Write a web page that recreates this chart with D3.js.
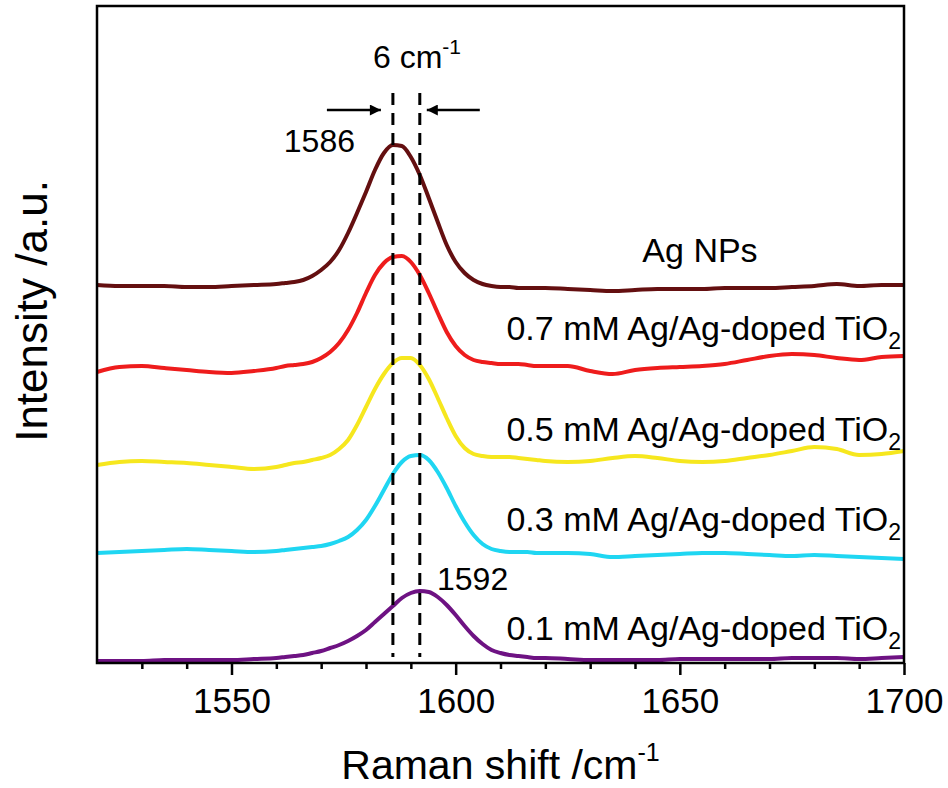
<!DOCTYPE html>
<html>
<head>
<meta charset="utf-8">
<script src="https://cdn.jsdelivr.net/npm/d3@7"></script>
<style>
  body { margin: 0; background: #fff; }
  text { font-family: "Liberation Sans", Arial, sans-serif; fill: #000; }
</style>
</head>
<body>
<div id="chart"></div>
<script>

// raman shift sampling (cm-1)
var ramanShift = [1520, 1525, 1530, 1535, 1540, 1545, 1550, 1555,
    1560, 1562, 1564, 1566, 1568, 1570, 1572, 1574, 1576, 1578, 1580,
    1582, 1584, 1586, 1588, 1590, 1592, 1594, 1596, 1598, 1600,
    1602, 1604, 1606, 1608, 1610, 1612, 1614, 1616, 1618, 1620,
    1625, 1630, 1635, 1640, 1645, 1650, 1655, 1660, 1665, 1670, 1675,
    1680, 1685, 1690, 1695, 1700];

// intensities (a.u., stacked with offsets as in the figure)
var agNPs = [378, 377, 377, 377, 376, 376, 377, 378,
    379, 380, 381, 383, 387, 393, 401, 413, 430, 450, 471,
    493, 510, 518, 517, 506, 488, 465, 441, 418, 401,
    390, 383, 379, 377, 376, 376, 375, 375, 375, 375,
    374, 373, 372, 373, 374, 374, 374, 375, 375, 375, 376,
    377, 379, 377, 378, 378];

var ag07 = [291, 296, 297, 295, 293, 291, 290, 292,
    295, 297, 298, 299, 301, 305, 311, 320, 333, 350, 370,
    388, 400, 406, 407, 401, 388, 370, 350, 331, 317,
    308, 303, 301, 300, 299, 299, 299, 298, 297, 297,
    297, 292, 289, 293, 295, 296, 297, 299, 303, 307, 309,
    308, 305, 303, 306, 307];

var ag05 = [198, 201, 202, 201, 200, 198, 196, 194,
    196, 198, 200, 201, 203, 205, 208, 214, 223, 238, 256,
    274, 289, 300, 305, 305, 298, 284, 265, 245, 227,
    215, 209, 207, 206, 206, 206, 205, 204, 203, 202,
    201, 202, 205, 207, 205, 202, 201, 202, 205, 208, 212,
    216, 214, 208, 209, 212];

var ag03 = [110, 111, 112, 113, 114, 113, 112, 111,
    112, 113, 114, 115, 116, 117, 119, 122, 126, 133, 143,
    157, 173, 189, 201, 207, 208, 203, 191, 175, 157,
    141, 128, 119, 114, 112, 111, 111, 111, 110, 110,
    110, 109, 106, 107, 108, 109, 110, 110, 109, 108, 107,
    108, 107, 106, 105, 104];

var ag01 = [2, 2, 2, 3, 3, 3, 3, 4,
    5, 6, 7, 8, 10, 12, 15, 18, 22, 27, 33,
    41, 49, 57, 65, 70, 72, 71, 66, 58, 48,
    37, 27, 19, 13, 10, 8, 7, 6, 5, 5,
    4, 3, 3, 3, 3, 4, 4, 4, 4, 4, 5,
    5, 5, 4, 5, 6];

var seriesNames = ["Ag NPs", "0.7 mM Ag/Ag-doped TiO", "0.5 mM Ag/Ag-doped TiO",
    "0.3 mM Ag/Ag-doped TiO", "0.1 mM Ag/Ag-doped TiO"];
var seriesColors = ["#640f10", "#ee1c1c", "#f6e71e", "#1fd6f2", "#6e1283"];
var seriesValues = [agNPs, ag07, ag05, ag03, ag01];

var majorTicks = [1550, 1600, 1650, 1700];
var minorTicks = [1530, 1540, 1560, 1570, 1580, 1590, 1610, 1620, 1630, 1640,
    1660, 1670, 1680, 1690];

// peak positions marked with dashed lines
var peakMarks = [1586, 1592];

// svg container
var svgWidth = 948;
var svgHeight = 788;

var margin = { top: 6, right: 44, bottom: 125, left: 97 };
var chartWidth = svgWidth - margin.left - margin.right;
var chartHeight = svgHeight - margin.top - margin.bottom;

var svg = d3.select("#chart").append("svg")
    .attr("width", svgWidth)
    .attr("height", svgHeight);

var chartGroup = svg.append("g")
    .attr("transform", `translate(${margin.left}, ${margin.top})`);

// scales
var xScale = d3.scaleLinear()
    .domain([1520, 1700])
    .range([0, chartWidth]);

var yScale = d3.scaleLinear()
    .domain([0, 657])
    .range([chartHeight, 0]);

// minor ticks
chartGroup.append("g")
    .attr("transform", `translate(0, ${chartHeight})`)
    .call(d3.axisBottom(xScale).tickValues(minorTicks).tickSize(6).tickFormat(""))
    .call(g => g.select(".domain").remove())
    .call(g => g.selectAll("line").attr("stroke", "#000").attr("stroke-width", 2.5));

// major ticks
chartGroup.append("g")
    .attr("transform", `translate(0, ${chartHeight})`)
    .call(d3.axisBottom(xScale).tickValues(majorTicks).tickSize(12)
        .tickPadding(13).tickFormat(d3.format("d")))
    .call(g => g.select(".domain").remove())
    .call(g => g.selectAll("line").attr("stroke", "#000").attr("stroke-width", 2.5))
    .call(g => g.selectAll("text")
        .style("font-size", "35px")
        .attr("font-family", "Liberation Sans, Arial, sans-serif"));

// spectra
var line = d3.line()
    .x((d, i) => xScale(ramanShift[i]))
    .y(d => yScale(d))
    .curve(d3.curveMonotoneX);

seriesValues.forEach(function(vals, i) {
    chartGroup.append("path")
        .datum(vals)
        .attr("fill", "none")
        .attr("stroke", seriesColors[i])
        .attr("stroke-width", 4)
        .attr("stroke-linejoin", "round")
        .attr("d", line);
});

// dashed peak lines
chartGroup.selectAll(".peakLine")
    .data(peakMarks)
    .enter()
    .append("line")
    .attr("class", "peakLine")
    .attr("x1", d => xScale(d))
    .attr("x2", d => xScale(d))
    .attr("y1", 87)
    .attr("y2", chartHeight - 6)
    .attr("stroke", "#000")
    .attr("stroke-width", 3)
    .attr("stroke-dasharray", "12,8");

// frame
chartGroup.append("rect")
    .attr("x", 0)
    .attr("y", 0)
    .attr("width", chartWidth)
    .attr("height", chartHeight)
    .attr("fill", "none")
    .attr("stroke", "#000")
    .attr("stroke-width", 2.5);

// arrows
var defs = svg.append("defs");
defs.append("marker")
    .attr("id", "arrowHead")
    .attr("viewBox", "0 0 10 10")
    .attr("refX", 10)
    .attr("refY", 5)
    .attr("markerWidth", 16)
    .attr("markerHeight", 11)
    .attr("markerUnits", "userSpaceOnUse")
    .attr("orient", "auto")
    .append("path")
    .attr("d", "M0,0 L10,5 L0,10 Z")
    .attr("fill", "#000");

var arrowY = 104;
chartGroup.append("line")
    .attr("x1", xScale(peakMarks[0]) - 66)
    .attr("x2", xScale(peakMarks[0]) - 12)
    .attr("y1", arrowY).attr("y2", arrowY)
    .attr("stroke", "#000").attr("stroke-width", 2.5)
    .attr("marker-end", "url(#arrowHead)");

chartGroup.append("line")
    .attr("x1", xScale(peakMarks[1]) + 60)
    .attr("x2", xScale(peakMarks[1]) + 7)
    .attr("y1", arrowY).attr("y2", arrowY)
    .attr("stroke", "#000").attr("stroke-width", 2.5)
    .attr("marker-end", "url(#arrowHead)");

// "6 cm-1" label
var shiftLabel = chartGroup.append("text")
    .attr("x", 276)
    .attr("y", 62)
    .style("font-size", "32px");
shiftLabel.append("tspan").text("6 cm");
shiftLabel.append("tspan").attr("dy", -14).style("font-size", "21px").text("-1");

// peak value labels
chartGroup.append("text")
    .attr("x", 258)
    .attr("y", 146)
    .attr("text-anchor", "end")
    .style("font-size", "32px")
    .text(peakMarks[0]);

chartGroup.append("text")
    .attr("x", 340)
    .attr("y", 584)
    .style("font-size", "32px")
    .text(peakMarks[1]);

// series labels
var labelY = [256, 334, 435, 525, 634];
seriesNames.forEach(function(name, i) {
    if (i === 0) {
        chartGroup.append("text")
            .attr("x", 603)
            .attr("y", labelY[i])
            .attr("text-anchor", "middle")
            .style("font-size", "34px")
            .text(name);
    } else {
        var t = chartGroup.append("text")
            .attr("x", chartWidth - 3)
            .attr("y", labelY[i])
            .attr("text-anchor", "end")
            .style("font-size", "34px");
        t.append("tspan").text(name);
        t.append("tspan").attr("dy", 9).style("font-size", "23px").text("2");
    }
});

// axis titles
var xTitle = svg.append("text")
    .attr("x", margin.left + chartWidth / 2)
    .attr("y", 779)
    .attr("text-anchor", "middle")
    .style("font-size", "41px");
xTitle.append("tspan").text("Raman shift /cm");
xTitle.append("tspan").attr("dy", -18).style("font-size", "25px").text("-1");

svg.append("text")
    .attr("transform", "rotate(-90)")
    .attr("x", -311)
    .attr("y", 47)
    .attr("text-anchor", "middle")
    .style("font-size", "44px")
    .text("Intensity /a.u.");

</script>
</body>
</html>
